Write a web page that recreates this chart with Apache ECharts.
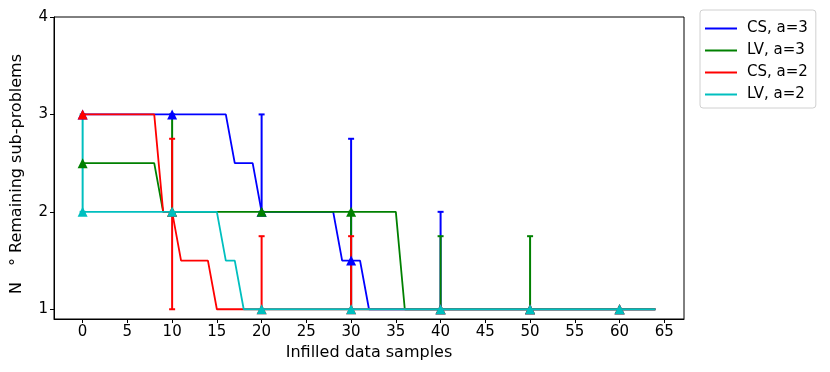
<!DOCTYPE html>
<html>
<head>
<meta charset="utf-8">
<script src="https://cdn.jsdelivr.net/npm/echarts@6/dist/echarts.min.js"></script>
<style>html,body{margin:0;padding:0;background:#fff}#c{width:830px;height:372px}</style>
</head>
<body>
<div id="c"></div>
<script>
// ---- data ----
const seriesNames = ['CS, a=3', 'LV, a=3', 'CS, a=2', 'LV, a=2'];
// values at infilled samples 0..64
const csA3 = [3,3,3,3,3,3,3,3,3,3,3,3,3,3,3,3,3,2.5,2.5,2.5,2,2,2,2,2,2,2,2,2,1.5,1.5,1.5,1,1,1,1,1,1,1,1,1,1,1,1,1,1,1,1,1,1,1,1,1,1,1,1,1,1,1,1,1,1,1,1,1];
const lvA3 = [2.5,2.5,2.5,2.5,2.5,2.5,2.5,2.5,2.5,2,2,2,2,2,2,2,2,2,2,2,2,2,2,2,2,2,2,2,2,2,2,2,2,2,2,2,1,1,1,1,1,1,1,1,1,1,1,1,1,1,1,1,1,1,1,1,1,1,1,1,1,1,1,1,1];
const csA2 = [3,3,3,3,3,3,3,3,3,2,2,1.5,1.5,1.5,1.5,1,1,1,1,1,1,1,1,1,1,1,1,1,1,1,1,1,1,1,1,1,1,1,1,1,1,1,1,1,1,1,1,1,1,1,1,1,1,1,1,1,1,1,1,1,1,1,1,1,1];
const lvA2 = [2,2,2,2,2,2,2,2,2,2,2,2,2,2,2,2,1.5,1.5,1,1,1,1,1,1,1,1,1,1,1,1,1,1,1,1,1,1,1,1,1,1,1,1,1,1,1,1,1,1,1,1,1,1,1,1,1,1,1,1,1,1,1,1,1,1,1];
// error bars at sample positions
const errX = [0, 10, 20, 30, 40, 50, 60];
const csA3Low  = [null, null, 2, 1, 1, null, null];
const csA3High = [null, null, 3, 2.75, 2, null, null];
const lvA3Low  = [null, 2, null, 1, 1, 1, null];
const lvA3High = [null, 3, null, 2, 1.75, 1.75, null];
const csA2Low  = [null, 1, 1, 1, null, null, null];
const csA2High = [null, 2.75, 1.75, 1.75, null, null, null];
const lvA2Low  = [2, null, null, null, null, null, null];
const lvA2High = [3, null, null, null, null, null, null];
const xTicks = [0,5,10,15,20,25,30,35,40,45,50,55,60,65];
const yTicks = [1,2,3,4];

const colors = ['#0000ff', '#008000', '#ff0000', '#00bfbf'];
const values = [csA3, lvA3, csA2, lvA2];
const lows = [csA3Low, lvA3Low, csA2Low, lvA2Low];
const highs = [csA3High, lvA3High, csA2High, lvA2High];

const chart = echarts.init(document.getElementById('c'), null, {renderer: 'canvas'});
const font = 'DejaVu Sans';
const series = [];
values.forEach((vals, i) => {
  series.push({
    name: seriesNames[i],
    type: 'line',
    data: vals.map((v, x) => [x, v]),
    color: colors[i],
    lineStyle: {width: 1.8, color: colors[i]},
    itemStyle: {color: colors[i]},
    symbol: (val) => (val[0] % 10 === 0 ? 'triangle' : 'none'),
    symbolSize: 10,
    showSymbol: true,
    showAllSymbol: true,
    z: 10 + i,
    animation: false,
    emphasis: {disabled: true}
  });
});
lows.forEach((lo, i) => {
  const d = [];
  errX.forEach((x, k) => { if (lo[k] !== null) d.push([x, lo[k], highs[i][k]]); });
  series.push({
    type: 'custom',
    name: seriesNames[i] + ' err',
    data: d,
    z: 2 + i,
    animation: false,
    encode: {x: 0, y: [1, 2]},
    renderItem: (params, api) => {
      const x = api.value(0);
      const p1 = api.coord([x, api.value(1)]);
      const p2 = api.coord([x, api.value(2)]);
      const cap = 3;
      const st = {stroke: colors[i], lineWidth: 2};
      return {type: 'group', children: [
        {type: 'line', shape: {x1: p1[0], y1: p1[1], x2: p2[0], y2: p2[1]}, style: st},
        {type: 'line', shape: {x1: p1[0]-cap, y1: p1[1], x2: p1[0]+cap, y2: p1[1]}, style: st},
        {type: 'line', shape: {x1: p2[0]-cap, y1: p2[1], x2: p2[0]+cap, y2: p2[1]}, style: st}
      ]};
    }
  });
});

chart.setOption({
  animation: false,
  backgroundColor: '#fff',
  grid: {left: 54, right: 146, top: 17, bottom: 53, show: true, borderColor: '#000', borderWidth: 1},
  legend: {
    data: seriesNames,
    orient: 'vertical',
    left: 700, top: 10,
    padding: [11, 8, 6, 5],
    itemWidth: 32, itemHeight: 2, itemGap: 7,
    icon: 'rect',
    borderColor: '#d0d0d0', borderWidth: 1, borderRadius: 3,
    backgroundColor: '#fff',
    textStyle: {fontFamily: font, fontSize: 15, color: '#000', padding: [0, 0, 0, 5]}
  },
  xAxis: {
    type: 'value', min: -3.2, max: 67.2,
    name: 'Infilled data samples', nameLocation: 'middle', nameGap: 26,
    nameTextStyle: {fontFamily: font, fontSize: 16, color: '#000'},
    axisLine: {show: true, onZero: false, lineStyle: {color: '#000'}},
    axisTick: {show: true, length: 4, customValues: xTicks, lineStyle: {color: '#000'}},
    axisLabel: {customValues: xTicks, fontFamily: font, fontSize: 15, color: '#000', margin: 6},
    splitLine: {show: false}
  },
  yAxis: {
    type: 'value', min: 0.9, max: 4,
    name: 'N\u2002\u2002° Remaining sub-problems', nameLocation: 'middle', nameGap: 29,
    nameTextStyle: {fontFamily: font, fontSize: 16, color: '#000', padding: [0, 12, 0, 0]},
    axisLine: {show: true, onZero: false, lineStyle: {color: '#000'}},
    axisTick: {show: true, length: 4, customValues: yTicks, lineStyle: {color: '#000'}},
    axisLabel: {customValues: yTicks, fontFamily: font, fontSize: 15, color: '#000', margin: 6},
    splitLine: {show: false}
  },
  series: series
});
</script>
</body>
</html>
